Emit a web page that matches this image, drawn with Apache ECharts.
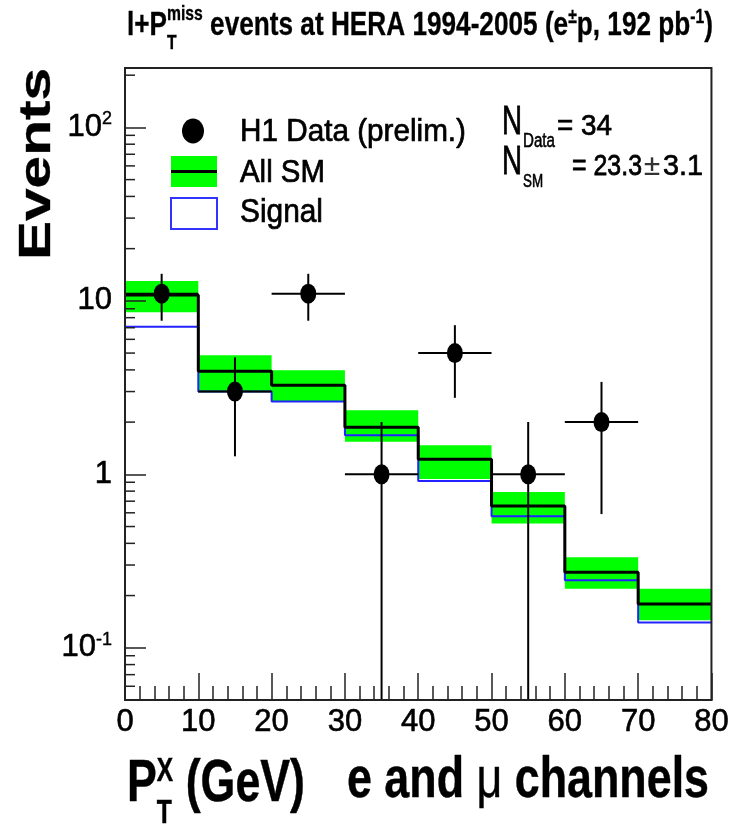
<!DOCTYPE html>
<html>
<head>
<meta charset="utf-8">
<title>l+PTmiss events at HERA</title>
<script src="https://cdn.jsdelivr.net/npm/echarts@6/dist/echarts.min.js"></script>
<style>
html, body { margin: 0; padding: 0; background: #fff; }
#chart { width: 732px; height: 826px; }
</style>
</head>
<body>
<div id="chart"></div>
<script>
// bin edges of P_T^X (GeV)
const binEdges = [0, 10, 20, 30, 40, 50, 60, 70, 80]
// all SM prediction per bin, with the upper and lower edge of its error band
const smValues = [10.8, 3.93, 3.26, 1.87, 1.22, 0.656, 0.273, 0.179]
const smBandHigh = [13.0, 4.86, 3.98, 2.34, 1.47, 0.79, 0.333, 0.219]
const smBandLow = [8.6, 2.97, 2.61, 1.54, 0.94, 0.52, 0.219, 0.144]
// signal component per bin
const signalValues = [7.08, 3.0, 2.63, 1.68, 0.915, 0.573, 0.245, 0.14]
// H1 data points: bin centre, events, error, half bin width
const dataX = [5, 15, 25, 35, 45, 55, 65]
const dataCounts = [11, 3, 11, 1, 5, 1, 2]
const dataErrors = [3.32, 1.73, 3.32, 1.0, 2.24, 1.0, 1.41]
const dataHalfWidth = [5, 5, 5, 5, 5, 5, 5]
// axis ranges and tick labels
const xRange = [0, 80]
const yRange = [0.05, 220]
const yLabelTicks = [0.1, 1, 10, 100]
const yLabelTexts = ['{n|10}{s|-1}', '{n|1}', '{n|10}', '{n|10}{s|2}']
const yMinorTicks = [0.06, 0.07, 0.08, 0.09, 0.2, 0.3, 0.4, 0.5, 0.6, 0.7, 0.8, 0.9,
  2, 3, 4, 5, 6, 7, 8, 9, 20, 30, 40, 50, 60, 70, 80, 90, 200]

const FONT = '"Liberation Sans", Arial, Helvetica, sans-serif'
const REF = 100
const measureCtx = document.createElement('canvas').getContext('2d')

function textWidth (t, size, weight) {
  measureCtx.font = weight + ' ' + size + 'px ' + FONT
  return measureCtx.measureText(t).width
}

// lays out text pieces (with sub/superscripts) from a baseline start point,
// stretched to a given length and cap height
function textBlock (parts, o) {
  let items = []
  let x = 0
  let pending = 0
  parts.forEach(function (p) {
    let size = REF * (p.r || 1)
    let weight = p.w || o.weight || 'normal'
    let w = textWidth(p.t, size, weight)
    items.push({ p: p, size: size, weight: weight, x: x })
    if (p.stack) {
      pending = Math.max(pending, w)
    } else {
      x += Math.max(w, pending)
      pending = 0
    }
  })
  let scaleX = o.len / x
  let scaleY = o.capH / (0.716 * REF)
  let strokeW = (o.stroke || 0) / Math.sqrt(scaleX * scaleY)
  return {
    type: 'group',
    x: o.x,
    y: o.y,
    rotation: o.rotation || 0,
    scaleX: scaleX,
    scaleY: scaleY,
    silent: true,
    z: 100,
    children: items.map(function (it) {
      let color = it.p.color || '#000'
      return {
        type: 'text',
        x: it.x,
        y: (it.p.dy || 0) / scaleY - 0.3465 * it.size,
        style: {
          text: it.p.t,
          font: it.weight + ' ' + it.size + 'px ' + FONT,
          fill: color,
          stroke: strokeW > 0 ? color : null,
          lineWidth: strokeW,
          align: 'left',
          verticalAlign: 'middle',
          textAlign: 'left',
          textVerticalAlign: 'middle'
        }
      }
    })
  }
}

// horizontal block helper: x0..x1 and cap top / baseline in page pixels
function hBlock (parts, x0, x1, top, base, weight, stroke) {
  return textBlock(parts, { x: x0, y: base, len: x1 - x0, capH: base - top, weight: weight, stroke: stroke })
}

let bandData = smBandLow.map(function (lo, i) {
  return [binEdges[i], binEdges[i + 1], lo, smBandHigh[i]]
})
let smStep = binEdges.map(function (x, i) {
  return [x, smValues[Math.min(i, smValues.length - 1)]]
})
let signalStep = binEdges.map(function (x, i) {
  return [x, signalValues[Math.min(i, signalValues.length - 1)]]
})
let pointData = dataX.map(function (x, i) {
  return [x, dataCounts[i], dataErrors[i], dataHalfWidth[i]]
})

let myChart = echarts.init(document.getElementById('chart'))

myChart.setOption({
  animation: false,
  backgroundColor: '#fff',
  grid: {
    left: 125,
    right: 18,
    top: 68,
    bottom: 126,
    show: true,
    z: 10,
    backgroundColor: 'transparent',
    borderColor: '#222',
    borderWidth: 2
  },
  xAxis: {
    type: 'value',
    min: xRange[0],
    max: xRange[1],
    interval: 10,
    z: 10,
    axisLine: { show: true, onZero: false, lineStyle: { color: '#222', width: 2 } },
    axisTick: { show: true, inside: true, length: 27, lineStyle: { color: '#222', width: 1.5 } },
    minorTick: { show: true, splitNumber: 5, length: 14, lineStyle: { color: '#222', width: 1.5 } },
    splitLine: { show: false },
    minorSplitLine: { show: false },
    axisLabel: {
      margin: 7,
      color: '#000',
      fontFamily: FONT,
      fontSize: 31,
      textBorderColor: '#000',
      textBorderWidth: 0.6
    }
  },
  yAxis: {
    type: 'log',
    logBase: 10,
    min: yRange[0],
    max: yRange[1],
    z: 10,
    axisLine: { show: true, onZero: false, lineStyle: { color: '#222', width: 2 } },
    axisTick: { show: true, inside: true, length: 21, lineStyle: { color: '#222', width: 1.5 } },
    splitLine: { show: false },
    axisLabel: {
      margin: 13,
      color: '#000',
      fontFamily: FONT,
      formatter: function (v) {
        for (let i = 0; i < yLabelTicks.length; i++) {
          if (Math.abs(v / yLabelTicks[i] - 1) < 1e-6) return yLabelTexts[i]
        }
        return ''
      },
      rich: {
        n: { fontSize: 31, fontFamily: FONT, color: '#000', textBorderColor: '#000', textBorderWidth: 0.6 },
        s: { fontSize: 18, fontFamily: FONT, color: '#000', textBorderColor: '#000', textBorderWidth: 0.4, padding: [0, 0, 16, 0] }
      }
    }
  },
  series: [
    {
      // SM error band
      type: 'custom',
      name: 'All SM band',
      data: bandData,
      encode: { x: [0, 1], y: [2, 3] },
      z: 2,
      renderItem: function (params, api) {
        let p0 = api.coord([api.value(0), api.value(3)])
        let p1 = api.coord([api.value(1), api.value(2)])
        return {
          type: 'rect',
          shape: { x: p0[0], y: p0[1], width: p1[0] - p0[0], height: p1[1] - p0[1] },
          style: { fill: '#00ff00' }
        }
      }
    },
    {
      type: 'line',
      name: 'Signal',
      data: signalStep,
      step: 'end',
      symbol: 'none',
      z: 3,
      lineStyle: { color: '#2222ff', width: 2 }
    },
    {
      type: 'line',
      name: 'All SM',
      data: smStep,
      step: 'end',
      symbol: 'none',
      z: 4,
      lineStyle: { color: '#000', width: 3 }
    },
    {
      // data error bars
      type: 'custom',
      name: 'H1 errors',
      data: pointData,
      z: 5,
      clip: true,
      renderItem: function (params, api) {
        let x = api.value(0)
        let y = api.value(1)
        let err = api.value(2)
        let hw = api.value(3)
        let top = api.coord([x, y + err])
        let bot = api.coord([x, Math.max(y - err, yRange[0])])
        let left = api.coord([x - hw, y])
        let right = api.coord([x + hw, y])
        let st = { stroke: '#000', lineWidth: 2 }
        return {
          type: 'group',
          children: [
            { type: 'line', shape: { x1: top[0], y1: top[1], x2: bot[0], y2: bot[1] }, style: st },
            { type: 'line', shape: { x1: left[0], y1: left[1], x2: right[0], y2: right[1] }, style: st }
          ]
        }
      }
    },
    {
      type: 'scatter',
      name: 'H1 Data (prelim.)',
      data: pointData.map(function (d) { return [d[0], d[1]] }),
      symbol: 'path://M 1 0 A 1 1 0 1 1 -1 0 A 1 1 0 1 1 1 0 Z',
      symbolSize: [16, 20],
      z: 6,
      itemStyle: { color: '#000', opacity: 1 }
    },
    {
      // minor ticks of the log axis
      type: 'custom',
      name: 'y minor ticks',
      data: yMinorTicks.map(function (v) { return [xRange[0], v] }),
      z: 11,
      clip: false,
      silent: true,
      renderItem: function (params, api) {
        let p = api.coord([api.value(0), api.value(1)])
        return {
          type: 'line',
          shape: { x1: p[0], y1: p[1], x2: p[0] + 10, y2: p[1] },
          style: { stroke: '#222', lineWidth: 1.5 }
        }
      }
    }
  ],
  graphic: [
    // title
    hBlock([
      { t: 'l+P' },
      { t: 'miss', r: 0.6, dy: -16, stack: true },
      { t: 'T', r: 0.6, dy: 13 },
      { t: ' events at HERA 1994-2005 (e' },
      { t: '\u00b1', r: 0.6, dy: -13 },
      { t: 'p, 192 pb' },
      { t: '-1', r: 0.6, dy: -13 },
      { t: ')' }
    ], 127, 713, 13, 37, 'bold', 0.3),
    // y axis title
    textBlock([{ t: 'Events' }], { x: 53, y: 260, len: 192, capH: 31.5, weight: 'bold', rotation: Math.PI / 2, stroke: 0.4 }),
    // x axis title
    hBlock([
      { t: 'P' },
      { t: 'X', r: 0.55, dy: -22, stack: true },
      { t: 'T', r: 0.55, dy: 20 },
      { t: ' (GeV)' }
    ], 127, 305, 762, 805, 'bold', 0.4),
    hBlock([
      { t: 'e and ' },
      { t: '\u03bc', w: 'normal' },
      { t: ' channels' }
    ], 347, 709, 760, 801, 'bold', 0.4),
    // legend
    {
      type: 'circle',
      x: 193,
      y: 131,
      scaleY: 12.5 / 11,
      shape: { cx: 0, cy: 0, r: 11 },
      style: { fill: '#000' },
      z: 100
    },
    {
      type: 'rect',
      shape: { x: 171, y: 156, width: 46, height: 31 },
      style: { fill: '#00ff00' },
      z: 100
    },
    {
      type: 'line',
      shape: { x1: 171, y1: 171.5, x2: 217, y2: 171.5 },
      style: { stroke: '#000', lineWidth: 3 },
      z: 101
    },
    {
      type: 'rect',
      shape: { x: 171, y: 198, width: 46, height: 31 },
      style: { fill: '#fff', stroke: '#3333ff', lineWidth: 2 },
      z: 100
    },
    hBlock([{ t: 'H1 Data (prelim.)' }], 240, 466, 121, 143, 'normal', 0.7),
    hBlock([{ t: 'All SM' }], 240, 325, 161, 184, 'normal', 0.7),
    hBlock([{ t: 'Signal' }], 240, 323, 200, 224, 'normal', 0.7),
    // event counts
    hBlock([{ t: 'N' }], 502, 522, 108, 136.7, 'normal', 0.7),
    hBlock([{ t: 'Data' }], 523, 555, 133, 148, 'normal', 0.5),
    hBlock([{ t: '= 34' }], 557, 612, 115, 136.7, 'normal', 0.7),
    hBlock([{ t: 'N' }], 502, 522, 148, 176.7, 'normal', 0.7),
    hBlock([{ t: 'SM' }], 523, 543, 175, 188, 'normal', 0.5),
    hBlock([{ t: '= 23.3' }], 572, 642, 155, 176.7, 'normal', 0.7),
    hBlock([{ t: '\u00b1', color: '#333' }], 644, 660, 156, 176.7, 'normal', 0.2),
    hBlock([{ t: '3.1' }], 663, 703, 155, 176.7, 'normal', 0.7)
  ]
})
</script>
</body>
</html>
